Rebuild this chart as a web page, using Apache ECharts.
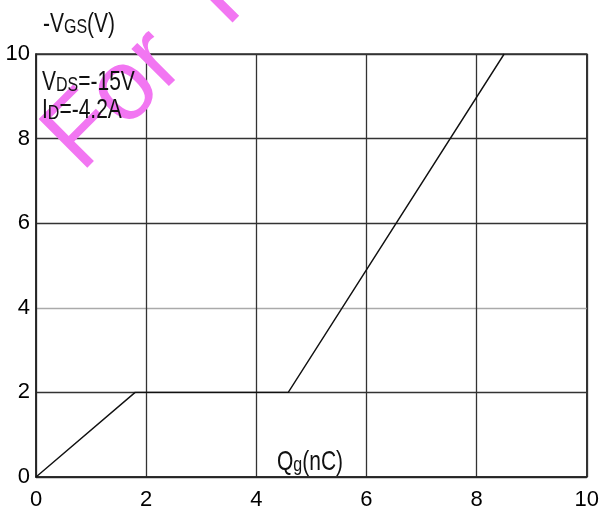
<!DOCTYPE html>
<html>
<head>
<meta charset="utf-8">
<script src="https://cdn.jsdelivr.net/npm/echarts@6/dist/echarts.min.js"></script>
<style>
  html, body { margin: 0; padding: 0; background: #fff; }
  #container { width: 602px; height: 514px; }
</style>
</head>
<body>
<div id="container"></div>
<script>
(function() {
    // gate charge curve
    var qg = [0, 1.8, 4.58, 8.5];
    var vgs = [0, 2, 2, 10];
    var xTicks = [0, 2, 4, 6, 8, 10];
    var yTicks = [0, 2, 4, 6, 8, 10];

    var font = 'Liberation Sans, Arial, sans-serif';
    var dom = document.getElementById("container");
    var myChart = echarts.init(dom);

    function label(x, y, rich, text) {
        return {
            type: 'text',
            x: x,
            y: y,
            scaleY: 1.3,
            z: 120,
            style: {
                text: text,
                textVerticalAlign: 'middle',
                fill: '#111',
                rich: rich
            }
        };
    }

    var rich = {
        b: { fontSize: 21, fontFamily: font, color: '#111', verticalAlign: 'bottom' },
        s: { fontSize: 16, fontFamily: font, color: '#111', verticalAlign: 'bottom' }
    };

    myChart.setOption({
        animation: false,
        grid: {
            left: 36,
            right: 11,
            top: 54,
            bottom: 37,
            show: true,
            borderColor: '#333',
            borderWidth: 1.5
        },
        xAxis: {
            type: 'value',
            min: xTicks[0],
            max: xTicks[xTicks.length - 1],
            interval: 2,
            axisLine: { show: true, lineStyle: { color: '#222', width: 1.5 } },
            axisTick: { show: false },
            axisLabel: { color: '#000', fontSize: 22, fontFamily: font, margin: 12 },
            splitLine: { show: true, lineStyle: { color: '#333', width: 1.3 } }
        },
        yAxis: {
            type: 'value',
            min: yTicks[0],
            max: yTicks[yTicks.length - 1],
            interval: 2,
            axisLine: { show: true, lineStyle: { color: '#222', width: 1.5 } },
            axisTick: { show: false },
            axisLabel: { color: '#000', fontSize: 22, fontFamily: font, margin: 6 },
            splitLine: { show: true, lineStyle: { color: ['#333', '#333', '#aaa', '#333', '#333', '#333'], width: 1.3 } }
        },
        graphic: [
            {
                type: 'text',
                x: 62,
                y: 154,
                rotation: Math.PI / 4,
                z: 100,
                style: {
                    text: 'For  Reference Only',
                    fontSize: 100,
                    fontFamily: font,
                    textVerticalAlign: 'middle',
                    fill: '#f276f2'
                }
            },
            label(43, 24, rich, '{b|-V}{s|GS}{b|(V)}'),
            label(42, 82, rich, '{b|V}{s|DS}{b|=-15V}'),
            label(42, 110, rich, '{b|I}{s|D}{b|=-4.2A}'),
            label(277, 462, rich, '{b|Q}{s|g}{b|(nC)}')
        ],
        series: [{
            type: 'line',
            data: qg.map(function(q, i) { return [q, vgs[i]]; }),
            showSymbol: false,
            lineStyle: { color: '#111', width: 1.4 },
            z: 10
        }]
    });
}).call(this);
</script>
</body>
</html>
